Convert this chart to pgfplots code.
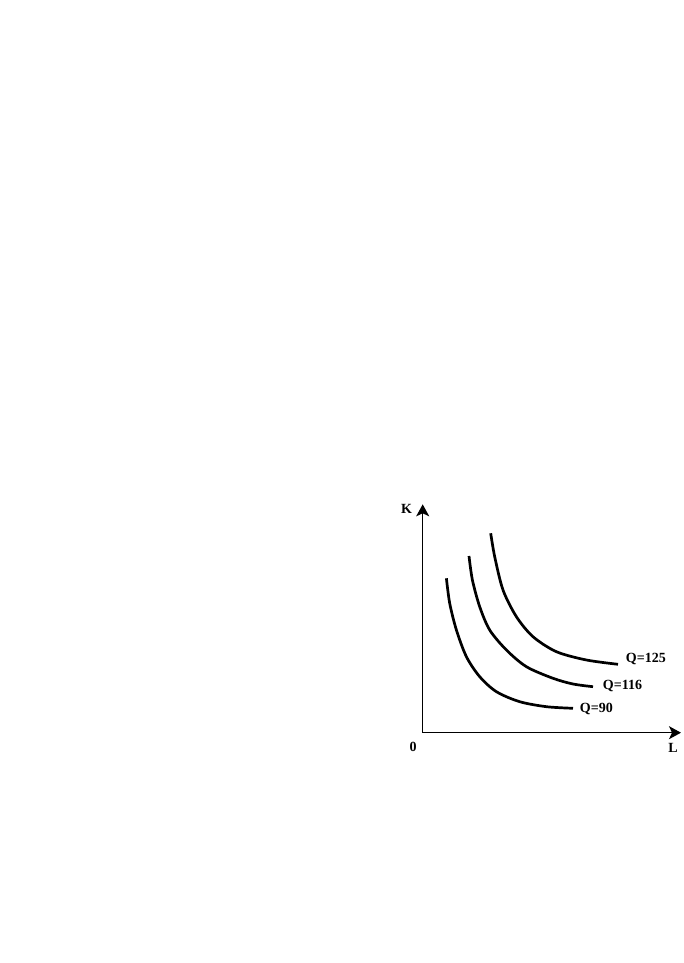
\documentclass[border=0pt]{standalone}
\usepackage{pgfplots}
\pgfplotsset{compat=1.18}
\usepackage{fontspec}
\setmainfont{Liberation Serif}
\usetikzlibrary{arrows.meta}
\begin{document}
\begin{tikzpicture}
\path[fill=white] (0,0) rectangle (684pt,963pt);
\begin{axis}[
  at={(422.7pt,230.3pt)}, anchor=south west,
  scale only axis, width=258.3pt, height=228.4pt,
  xmin=0, xmax=258.3, ymin=0, ymax=228.4,
  axis lines=left,
  axis line style={line width=1.4pt, -{Stealth[length=12pt,width=13pt,inset=3pt]}},
  xtick=\empty, ytick=\empty,
  clip=false,
]
\addplot[black, line width=2.7pt, smooth, no marks] coordinates {(23.7,154.4) (27,129.4) (33.7,102.7) (43.7,76) (57,56) (73.7,41) (97,31) (123.7,26) (150.3,24.4)};
\addplot[black, line width=2.7pt, smooth, no marks] coordinates {(46.3,176.7) (49.7,152.7) (57,126) (67,102.7) (83.7,82.7) (103.7,66) (130.3,54.4) (150.3,48.7) (170.3,46)};
\addplot[black, line width=2.7pt, smooth, no marks] coordinates {(68,199.4) (72,176) (80.3,142.7) (93.7,116) (110.3,96) (133.7,81) (163.7,72.7) (195.3,68.4)};
\node[anchor=west, inner sep=0pt, font=\fontsize{14}{16}\selectfont\bfseries] at (axis cs:157,23.7) {Q=90};
\node[anchor=west, inner sep=0pt, font=\fontsize{14}{16}\selectfont\bfseries] at (axis cs:180,46.7) {Q=116};
\node[anchor=west, inner sep=0pt, font=\fontsize{14}{16}\selectfont\bfseries] at (axis cs:203,73.7) {Q=125};
\node[font=\fontsize{14}{16}\selectfont\bfseries] at (axis cs:-16.2,223.7) {K};
\node[font=\fontsize{14}{16}\selectfont\bfseries] at (axis cs:-9.7,-14) {0};
\node[font=\fontsize{14}{16}\selectfont\bfseries] at (axis cs:250.3,-15.3) {L};
\end{axis}
\end{tikzpicture}
\end{document}
